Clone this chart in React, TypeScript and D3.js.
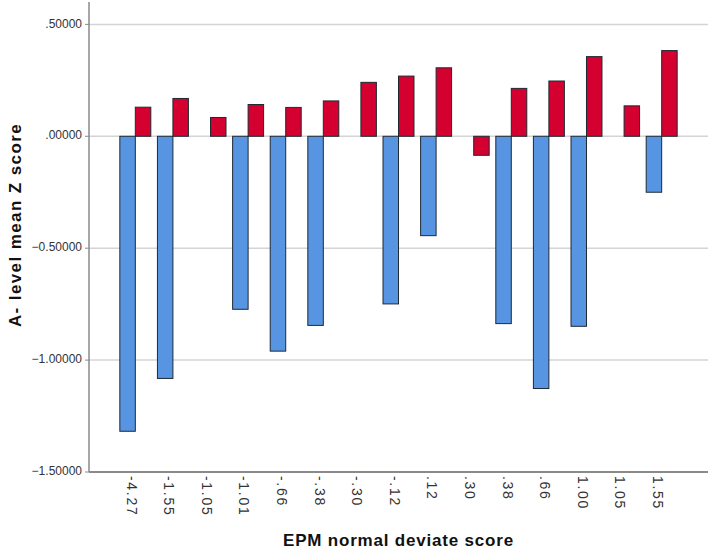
import React from "react";
import * as d3 from "d3";

const categories = ["-4.27", "-1.55", "-1.05", "-1.01", "-.66", "-.38", "-.30", "-.12", ".12", ".30", ".38", ".66", "1.00", "1.05", "1.55"];
const blueValues: (number | null)[] = [-1.318, -1.082, null, -0.773, -0.96, -0.845, null, -0.749, -0.444, null, -0.837, -1.127, -0.849, null, -0.25];
const redValues: (number | null)[] = [0.13, 0.169, 0.084, 0.142, 0.129, 0.158, 0.241, 0.269, 0.306, -0.085, 0.214, 0.247, 0.356, 0.136, 0.383];
const yTicks = [-1.5, -1.0, -0.5, 0, 0.5];
const seriesKeys = ["blue", "red"];
const seriesColors: Record<string, string> = { blue: "#5795e2", red: "#d4002f" };

const W = 709, H = 551;
const left = 89, right = 708, top = 2, bottom = 472;

function fmt(v: number) {
  let s = d3.format(".5f")(v);
  s = s.replace(/^(-?)0\./, "$1.");
  return s;
}

export default function App() {
  const x = d3.scaleBand<string>().domain(categories).range([left, right]).paddingInner(0.176).paddingOuter(0.82);
  const xs = d3.scaleBand<string>().domain(seriesKeys).range([0, x.bandwidth()]).padding(0);
  const y = d3.scaleLinear().domain([-1.5, 0.6]).range([bottom, top]);
  const font = "Liberation Sans, Arial, sans-serif";

  const bars: JSX.Element[] = [];
  categories.forEach((c, i) => {
    const vals: Record<string, number | null> = { blue: blueValues[i], red: redValues[i] };
    seriesKeys.forEach((k) => {
      const v = vals[k];
      if (v === null || v === undefined) return;
      const x0 = (x(c) as number) + (xs(k) as number);
      const y0 = Math.min(y(v), y(0));
      const h = Math.abs(y(v) - y(0));
      bars.push(
        <rect key={c + k} x={x0} y={y0} width={xs.bandwidth()} height={h} fill={seriesColors[k]} stroke="#1f2a33" strokeWidth={1} />
      );
    });
  });

  return (
    <svg width={W} height={H} style={{ position: "absolute", left: 0, top: 0, background: "#fff" }} fontFamily={font}>
      {yTicks.filter((t) => t !== -1.5).map((t) => (
        <line key={"g" + t} x1={left} x2={right} y1={y(t)} y2={y(t)} stroke="#d4d4d4" strokeWidth={1.5} />
      ))}
      {bars}
      <line x1={left} x2={left} y1={top} y2={bottom} stroke="#8a8a8a" strokeWidth={1.5} />
      <line x1={left} x2={right} y1={bottom} y2={bottom} stroke="#8a8a8a" strokeWidth={2} />
      {yTicks.map((t) => (
        <g key={"t" + t}>
          <line x1={left - 4} x2={left} y1={y(t)} y2={y(t)} stroke="#8a8a8a" strokeWidth={1} />
          <text x={82} y={y(t)} textAnchor="end" dominantBaseline="middle" fontSize={12} fill="#333">{fmt(t)}</text>
        </g>
      ))}
      {categories.map((c) => {
        const cx = (x(c) as number) + x.bandwidth() / 2 - 5;
        return (
          <text key={"x" + c} transform={`translate(${cx},${bottom + 4}) rotate(90)`} dominantBaseline="middle" fontSize={14} letterSpacing={1.7} fill="#333">{c}</text>
        );
      })}
      <text x={(left + right) / 2} y={546} textAnchor="middle" fontSize={17} fontWeight="bold" letterSpacing={0.8} fill="#111">EPM normal deviate score</text>
      <text transform={`translate(17,225) rotate(-90)`} textAnchor="middle" dominantBaseline="middle" fontSize={17} fontWeight="bold" letterSpacing={1.4} fill="#111">A- level mean Z score</text>
    </svg>
  );
}
